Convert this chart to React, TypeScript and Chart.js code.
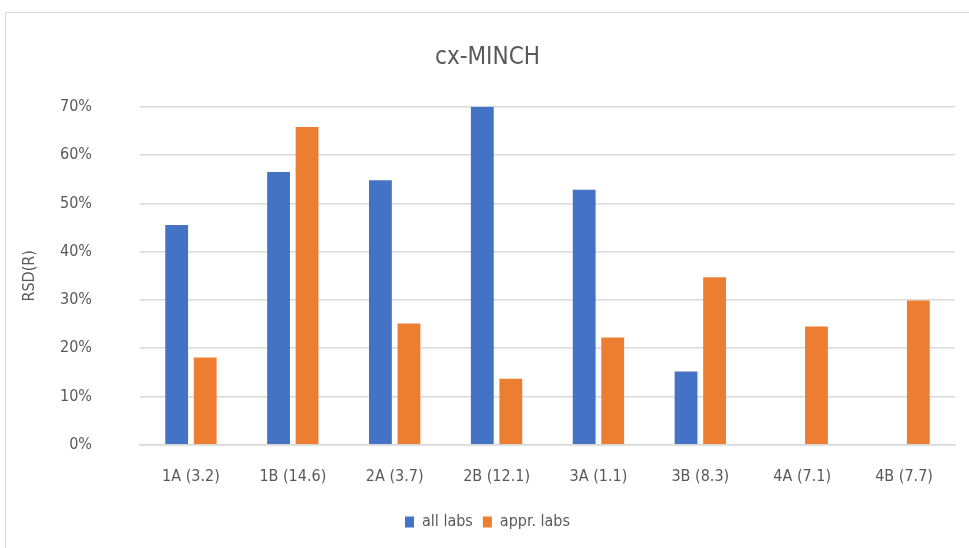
import React, { useEffect, useRef } from "react";
import { Chart, registerables } from "chart.js";

Chart.register(...registerables);

const categories = ["1A (3.2)", "1B (14.6)", "2A (3.7)", "2B (12.1)", "3A (1.1)", "3B (8.3)", "4A (7.1)", "4B (7.7)"];
const allLabs = [45.5, 56.5, 54.8, 70.0, 52.8, 15.2, null, null];
const apprLabs = [18.1, 65.8, 25.1, 13.7, 22.2, 34.7, 24.5, 29.9];
const yTicks = [0, 10, 20, 30, 40, 50, 60, 70];

const FONT = "'Liberation Sans Narrow', 'DejaVu Sans Condensed', sans-serif";
const TEXT = "#595959";

export default function App() {
  const ref = useRef<HTMLCanvasElement | null>(null);

  useEffect(() => {
    document.body.style.margin = "0";
    const ctx = ref.current!;
    const chart = new Chart(ctx, {
      type: "bar",
      data: {
        labels: categories,
        datasets: [
          { label: "all labs", data: allLabs, backgroundColor: "#4472C4", categoryPercentage: 0.56, barPercentage: 0.8 },
          { label: "appr. labs", data: apprLabs, backgroundColor: "#ED7D31", categoryPercentage: 0.56, barPercentage: 0.8 },
        ],
      },
      options: {
        animation: false,
        responsive: false,
        maintainAspectRatio: false,
        layout: { padding: { left: 20, right: 14, top: 20, bottom: 8 } },
        plugins: {
          title: {
            display: true,
            text: "cx-MINCH",
            color: TEXT,
            font: { family: FONT, size: 24, weight: "normal" },
            padding: { top: 23, bottom: 35 },
          },
          legend: {
            position: "bottom",
            labels: {
              color: TEXT,
              font: { family: FONT, size: 16 },
              boxWidth: 9,
              boxHeight: 11,
              padding: 10,
            },
          },
          tooltip: { enabled: false },
        },
        scales: {
          x: {
            afterFit: (s: any) => {
              s.height = s.height - 4;
            },
            grid: { display: false, drawTicks: false },
            border: { display: true, color: "#D9D9D9", width: 1.5 },
            ticks: { color: TEXT, font: { family: FONT, size: 16 }, padding: 22, maxRotation: 0 },
          },
          y: {
            min: 0,
            max: 70,
            afterBuildTicks: (s: any) => {
              s.ticks = yTicks.map((v) => ({ value: v }));
            },
            afterFit: (s: any) => {
              s.width = 120;
            },
            grid: { color: "#D9D9D9", lineWidth: 1.5, drawTicks: false },
            border: { display: false },
            ticks: {
              color: TEXT,
              font: { family: FONT, size: 16 },
              padding: 48,
              callback: (v: any) => v + "%",
            },
            title: {
              display: true,
              text: "RSD(R)",
              color: TEXT,
              font: { family: FONT, size: 16 },
              padding: 0,
            },
          },
        },
      },
    });
    return () => chart.destroy();
  }, []);

  return (
    <div style={{ position: "relative", width: 969, height: 548, overflow: "hidden", background: "#fff" }}>
      <div
        style={{
          position: "absolute",
          left: 5,
          top: 12,
          width: 1000,
          height: 600,
          border: "1.5px solid #D9D9D9",
          boxSizing: "border-box",
        }}
      />
      <canvas ref={ref} width={969} height={548} style={{ position: "absolute", left: 0, top: 0, width: 969, height: 548 }} />
    </div>
  );
}
